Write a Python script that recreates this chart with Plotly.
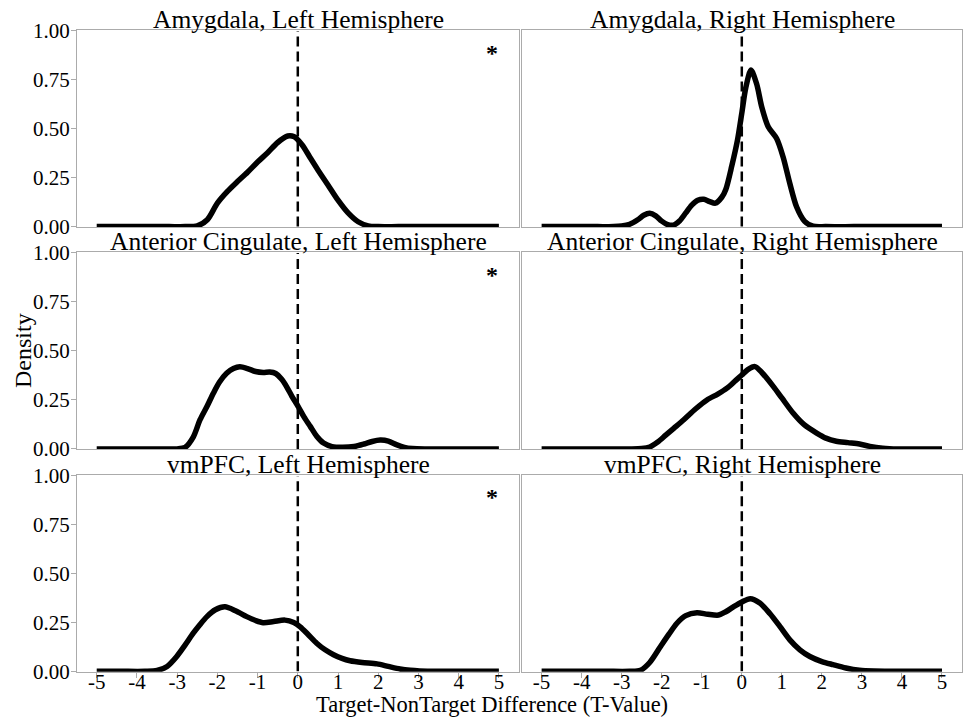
import plotly.graph_objects as go

# ---------------- data ----------------
panel_titles = [
    "Amygdala, Left Hemisphere", "Amygdala, Right Hemisphere",
    "Anterior Cingulate, Left Hemisphere", "Anterior Cingulate, Right Hemisphere",
    "vmPFC, Left Hemisphere", "vmPFC, Right Hemisphere",
]
significant = [True, False, True, False, True, False]

amy_left_x = [-5, -4, -3.2, -2.8, -2.5, -2.25, -2.0, -1.75, -1.5, -1.25, -1.0, -0.75, -0.5, -0.25, -0.1,
              0.1, 0.3, 0.5, 0.75, 1.0, 1.25, 1.5, 1.75, 2.0, 2.5, 3.5, 4.5, 5]
amy_left_y = [0, 0, 0, 0, 0.004, 0.035, 0.12, 0.18, 0.23, 0.278, 0.33, 0.378, 0.43, 0.463, 0.46,
              0.42, 0.355, 0.29, 0.213, 0.135, 0.07, 0.025, 0.004, 0, 0, 0, 0, 0]

amy_right_x = [-5, -4.2, -3.6, -3.2, -3.0, -2.8, -2.6, -2.45, -2.3, -2.15, -2.0, -1.85, -1.7, -1.55, -1.4,
               -1.25, -1.1, -0.95, -0.8, -0.66, -0.5, -0.4, -0.25, -0.11, 0.0, 0.1, 0.23,
               0.37, 0.5, 0.66, 0.87, 1.03, 1.2, 1.37, 1.57, 1.78, 2.1, 2.8, 3.6, 4.4, 5]
amy_right_y = [0, 0, 0, 0, 0.003, 0.012, 0.035, 0.058, 0.068, 0.055, 0.028, 0.01, 0.008, 0.03, 0.07,
               0.11, 0.135, 0.14, 0.128, 0.12, 0.15, 0.19, 0.31, 0.44, 0.58, 0.71, 0.80,
               0.73, 0.61, 0.51, 0.45, 0.357, 0.22, 0.10, 0.027, 0.002, 0, 0, 0, 0, 0]

acc_left_x = [-5, -4.2, -3.5, -3.0, -2.8, -2.6, -2.43, -2.25, -2.1, -1.95, -1.77, -1.6, -1.44, -1.25, -1.05,
              -0.86, -0.7, -0.55, -0.4, -0.28, -0.15, 0.01, 0.15, 0.31, 0.47, 0.64, 0.85, 1.1,
              1.4, 1.65, 1.85, 2.05, 2.25, 2.45, 2.65, 2.85, 3.2, 3.8, 4.4, 5]
acc_left_y = [0, 0, 0, 0, 0.008, 0.06, 0.149, 0.22, 0.284, 0.34, 0.386, 0.41, 0.419, 0.41, 0.395,
              0.39, 0.392, 0.385, 0.355, 0.318, 0.27, 0.216, 0.165, 0.115, 0.065, 0.03, 0.012, 0.008,
              0.012, 0.025, 0.038, 0.045, 0.04, 0.022, 0.008, 0.002, 0, 0, 0, 0]

acc_right_x = [-5, -4.2, -3.4, -2.8, -2.5, -2.3, -2.1, -1.9, -1.7, -1.45, -1.15, -0.87, -0.6, -0.37, -0.15, 0.0, 0.15,
               0.33, 0.5, 0.79, 1.0, 1.28, 1.55, 1.87, 2.1, 2.36, 2.65, 2.94, 3.2, 3.52, 3.9, 4.5, 5]
acc_right_y = [0, 0, 0, 0, 0.002, 0.01, 0.035, 0.07, 0.105, 0.149, 0.205, 0.25, 0.28, 0.31, 0.35, 0.377, 0.405,
               0.42, 0.39, 0.318, 0.26, 0.183, 0.125, 0.081, 0.055, 0.039, 0.032, 0.025, 0.013, 0.004, 0, 0, 0]

vm_left_x = [-5, -4.4, -3.8, -3.5, -3.25, -3.01, -2.8, -2.6, -2.43, -2.26, -2.05, -1.81, -1.55, -1.27,
             -1.05, -0.86, -0.6, -0.32, -0.1, 0.06, 0.25, 0.47, 0.68, 0.89, 1.1, 1.3, 1.6, 1.97,
             2.25, 2.54, 2.8, 3.03, 3.5, 4.2, 5]
vm_left_y = [0, 0, 0, 0.004, 0.025, 0.076, 0.135, 0.195, 0.24, 0.28, 0.315, 0.33, 0.31, 0.28,
             0.26, 0.249, 0.255, 0.262, 0.25, 0.228, 0.19, 0.144, 0.11, 0.085, 0.066, 0.054, 0.045, 0.038,
             0.025, 0.012, 0.005, 0.002, 0, 0, 0]

vm_right_x = [-5, -4.2, -3.4, -2.8, -2.53, -2.3, -2.03, -1.82, -1.62, -1.4, -1.12, -0.85, -0.58, -0.4, -0.21,
              0.0, 0.21, 0.45, 0.7, 0.95, 1.2, 1.45, 1.7, 2.0, 2.28, 2.6, 2.94, 3.3, 3.8, 4.4, 5]
vm_right_y = [0, 0, 0, 0, 0.005, 0.045, 0.127, 0.19, 0.246, 0.285, 0.30, 0.292, 0.288, 0.305, 0.33,
              0.355, 0.372, 0.35, 0.296, 0.23, 0.161, 0.11, 0.076, 0.05, 0.034, 0.017, 0.005, 0.001, 0, 0, 0]

curves_x = [amy_left_x, amy_right_x, acc_left_x, acc_right_x, vm_left_x, vm_right_x]
curves_y = [amy_left_y, amy_right_y, acc_left_y, acc_right_y, vm_left_y, vm_right_y]

x_ticks = [-5, -4, -3, -2, -1, 0, 1, 2, 3, 4, 5]
y_ticks = [0, 0.25, 0.5, 0.75, 1.0]
y_tick_labels = ["0.00", "0.25", "0.50", "0.75", "1.00"]
ref_line_x = [0, 0]
ref_line_y = [0, 1]
star_x, star_y = 4.83, 0.89

# ---------------- layout ----------------
W, H = 963, 717
FONT = "Liberation Serif"
col_px = [(77, 519), (522, 962)]
row_px = [(30, 227), (252, 449.3), (475, 671.7)]
FRAME = "#ababab"

fig = go.Figure()
layout = dict(
    width=W, height=H, margin=dict(l=0, r=0, t=0, b=0, autoexpand=False),
    paper_bgcolor="white", plot_bgcolor="white", showlegend=False,
    font=dict(family=FONT, color="black", size=21),
)
annotations = []

for i in range(6):
    r, c = divmod(i, 2)
    idx = "" if i == 0 else str(i + 1)
    xa, ya = "x" + idx, "y" + idx
    x0, x1 = col_px[c]
    y0, y1 = row_px[r]
    xd = [x0 / W, x1 / W]
    yd = [1 - y1 / H, 1 - y0 / H]
    bottom = (r == 2)
    left = (c == 0)
    layout["xaxis" + idx] = dict(
        domain=xd, range=[-5.49, 5.5], anchor=ya, automargin=False,
        showgrid=False, zeroline=False,
        showline=True, mirror=True, linecolor=FRAME, linewidth=1,
        tickmode="array", tickvals=x_ticks,
        ticktext=[str(v) for v in x_ticks],
        showticklabels=bottom, ticks="outside" if bottom else "",
        ticklen=5, tickcolor=FRAME, tickwidth=1, ticklabelstandoff=-14,
        tickfont=dict(family=FONT, size=21, color="black"),
    )
    layout["yaxis" + idx] = dict(
        domain=yd, range=[-0.002, 1.005], anchor=xa, automargin=False,
        showgrid=False, zeroline=False,
        showline=True, mirror=True, linecolor=FRAME, linewidth=1,
        tickmode="array", tickvals=y_ticks, ticktext=y_tick_labels,
        showticklabels=left, ticks="outside" if left else "",
        ticklen=5, tickcolor=FRAME, tickwidth=1, ticklabelstandoff=-3,
        tickfont=dict(family=FONT, size=21, color="black"),
    )
    # reference dashed line at zero
    fig.add_trace(go.Scatter(
        x=ref_line_x, y=ref_line_y, mode="lines", xaxis=xa, yaxis=ya,
        line=dict(color="black", width=2.5, dash="10px,5px"), hoverinfo="skip",
    ))
    # density curve
    fig.add_trace(go.Scatter(
        x=curves_x[i], y=curves_y[i], mode="lines", xaxis=xa, yaxis=ya,
        line=dict(color="black", width=5.5, shape="spline", smoothing=0.8),
    ))
    # panel title
    annotations.append(dict(
        text=panel_titles[i], xref="paper", yref="paper",
        x=(x0 + x1) / 2 / W, y=1 - (y0 - 11) / H,
        xanchor="center", yanchor="middle", showarrow=False,
        font=dict(family=FONT, size=25.5, color="black"),
    ))
    if significant[i]:
        annotations.append(dict(
            text="<b>*</b>", xref=xa, yref=ya, x=star_x, y=star_y,
            xanchor="center", yanchor="middle", showarrow=False,
            font=dict(family=FONT, size=24, color="black"),
        ))

annotations.append(dict(
    text="Target-NonTarget Difference (T-Value)", xref="paper", yref="paper",
    x=492 / W, y=1 - 704 / H, xanchor="center", yanchor="middle", showarrow=False,
    font=dict(family=FONT, size=22.5, color="black"),
))
annotations.append(dict(
    text="Density", xref="paper", yref="paper", textangle=-90,
    x=23 / W, y=1 - 351 / H, xanchor="center", yanchor="middle", showarrow=False,
    font=dict(family=FONT, size=24, color="black"),
))
layout["annotations"] = annotations
fig.update_layout(**layout)
fig.write_html(
    "out.html",
    config={"displayModeBar": False},
    post_script="document.body.style.margin='0';document.body.style.padding='0';"
                "document.documentElement.style.overflow='hidden';",
)
